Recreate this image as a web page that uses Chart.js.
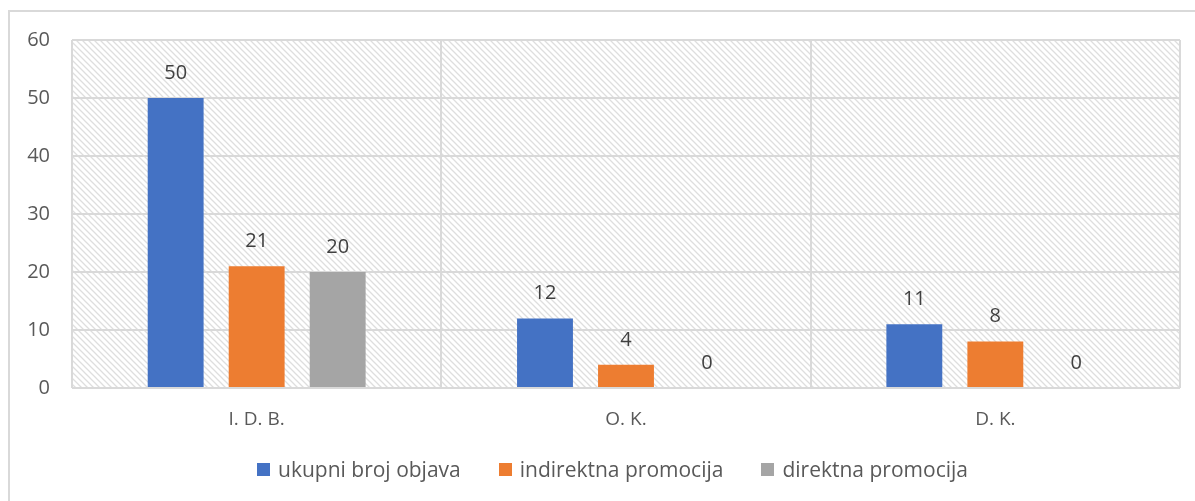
<!DOCTYPE html>
<html>
<head>
<meta charset="utf-8">
<script src="https://cdn.jsdelivr.net/npm/chart.js@4.4.1/dist/chart.umd.min.js"></script>
<style>
  body { margin: 0; background: #fff; font-family: 'Open Sans', sans-serif; }
  #frame { position: absolute; left: 8px; top: 10px; width: 1200px; height: 500px; border: 2px solid #d9d9d9; box-sizing: border-box; }
  #wrap { position: absolute; left: 0; top: 0; width: 1195px; height: 501px; }
  #legend { position: absolute; left: 0; width: 1225px; top: 455px; display: flex; justify-content: center; gap: 38px; font-size: 21px; color: #595959; }
  #legend span.item { display: flex; align-items: center; }
  #legend i { display: inline-block; width: 13px; height: 13px; margin-right: 8px; }
</style>
</head>
<body>
<div id="frame"></div>
<div id="wrap"><canvas id="chart" width="1195" height="501"></canvas></div>
<div id="legend"></div>
<script>
const categories = ['I. D. B.', 'O. K.', 'D. K.'];
const seriesNames = ['ukupni broj objava', 'indirektna promocija', 'direktna promocija'];
const ukupno = [50, 12, 11];
const indirektna = [21, 4, 8];
const direktna = [20, 0, 0];
const colors = ['#4472C4', '#ED7D31', '#A5A5A5'];
const yTicks = [0, 10, 20, 30, 40, 50, 60];

// hatch pattern for the plot area
function makeHatch() {
    const c = document.createElement('canvas');
    c.width = 6; c.height = 6;
    const g = c.getContext('2d');
    g.fillStyle = '#fff';
    g.fillRect(0, 0, 6, 6);
    g.strokeStyle = '#dedede';
    g.lineWidth = 1.3;
    g.beginPath();
    g.moveTo(-2, -2); g.lineTo(8, 8);
    g.moveTo(-2, 4); g.lineTo(2, 8);
    g.moveTo(4, -2); g.lineTo(8, 2);
    g.stroke();
    return g.createPattern(c, 'repeat');
}

const plotBg = {
    id: 'plotBg',
    beforeDraw(chart) {
        const a = chart.chartArea, ctx = chart.ctx;
        ctx.save();
        ctx.fillStyle = makeHatch();
        ctx.fillRect(a.left, a.top, a.right - a.left, a.bottom - a.top);
        ctx.restore();
    }
};

const valueLabels = {
    id: 'valueLabels',
    afterDatasetsDraw(chart) {
        const ctx = chart.ctx;
        ctx.save();
        ctx.font = '20px "Open Sans"';
        ctx.fillStyle = '#404040';
        ctx.textAlign = 'center';
        ctx.textBaseline = 'middle';
        chart.data.datasets.forEach((ds, i) => {
            chart.getDatasetMeta(i).data.forEach((bar, j) => {
                ctx.fillText(ds.data[j], bar.x, bar.y - 25);
            });
        });
        ctx.restore();
    }
};

const seriesData = [ukupno, indirektna, direktna];

new Chart(document.getElementById('chart'), {
    type: 'bar',
    data: {
        labels: categories,
        datasets: seriesData.map((d, i) => ({
            label: seriesNames[i],
            data: d,
            backgroundColor: colors[i],
            categoryPercentage: 0.658,
            barPercentage: 0.69
        }))
    },
    options: {
        responsive: false,
        animation: false,
        layout: { padding: { top: 40, right: 15, bottom: 63, left: 0 } },
        plugins: { legend: { display: false }, tooltip: { enabled: false } },
        scales: {
            x: {
                grid: { color: '#d9d9d9', lineWidth: 2, offset: true, drawTicks: false },
                border: { display: false },
                ticks: { color: '#595959', font: { family: 'Open Sans', size: 19 }, padding: 20 },
                afterFit(s) { s.height = 50; }
            },
            y: {
                min: 0, max: 60,
                afterBuildTicks(s) { s.ticks = yTicks.map(v => ({ value: v })); },
                grid: { color: '#d9d9d9', lineWidth: 2, drawTicks: false },
                border: { display: false },
                ticks: { color: '#595959', font: { family: 'Open Sans', size: 20 }, padding: 22 },
                afterFit(s) { s.width = 72; }
            }
        }
    },
    plugins: [plotBg, valueLabels]
});

document.getElementById('legend').innerHTML = seriesNames.map((n, i) =>
    `<span class="item"><i style="background:${colors[i]}"></i>${n}</span>`).join('');
</script>
</body>
</html>
